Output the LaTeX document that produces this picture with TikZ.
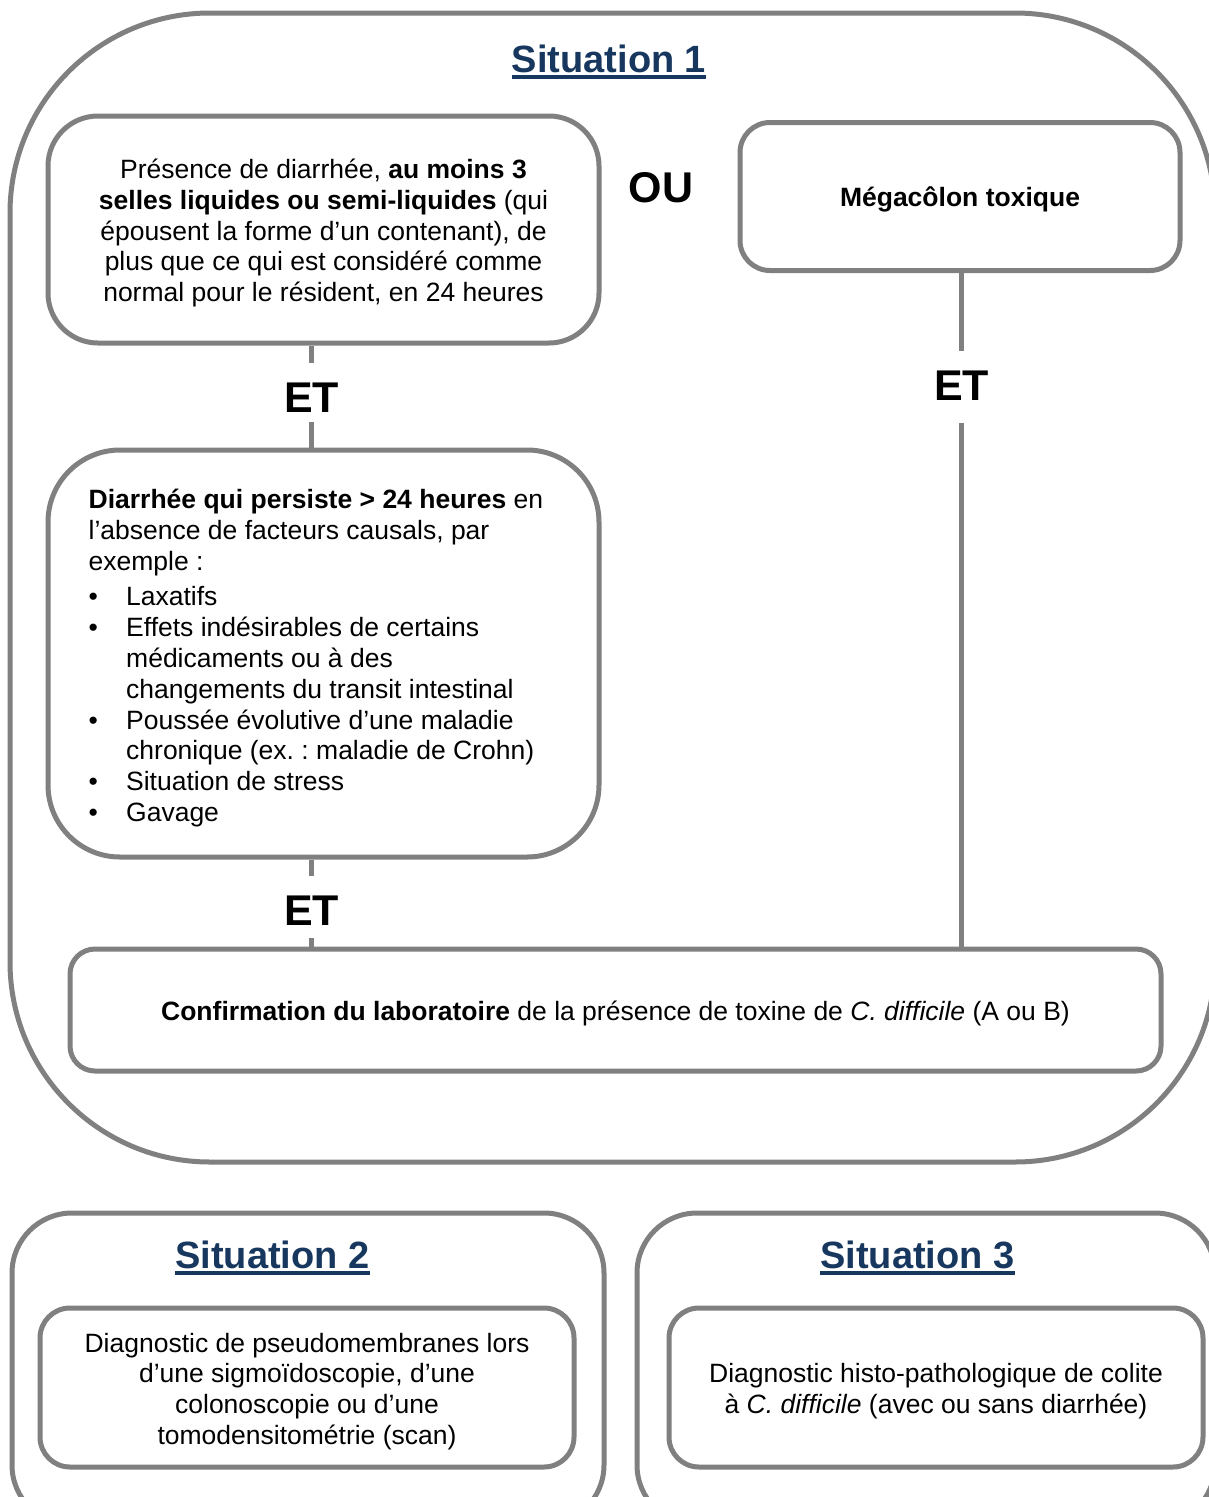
\documentclass[tikz,border=0pt]{standalone}
\usepackage{fontspec}
\setmainfont{Liberation Sans}
\definecolor{lg}{RGB}{128,128,128}
\definecolor{navy}{RGB}{23,55,94}
\newcommand{\bulitem}{\makebox[37.5pt][l]{•}}
\newcommand{\indit}{\hspace*{37.5pt}}
\frenchspacing
\begin{document}
\begin{tikzpicture}[x=1pt,y=-1pt,
  frame/.style={draw=lg, line width=5pt},
  body/.style={font=\fontsize{26.5}{30.8}\selectfont\frenchspacing},
  conn/.style={draw=lg, line width=5.5pt},
  title/.style={font=\fontsize{38}{40}\selectfont\bfseries, text=navy, inner sep=0pt, anchor=base},
  etlab/.style={font=\fontsize{43}{45}\selectfont\bfseries, inner sep=0pt, anchor=base},
  uline/.style={draw=navy, line width=3.8pt}]
\useasboundingbox (0,0) rectangle (1209,1497);
\clip (0,0) rectangle (1209,1497);

% outer frames
\node[frame, rounded corners=200pt, minimum width=1205pt, minimum height=1149pt] (S1) at (612.5,587.5) {};
\node[frame, rounded corners=60pt, minimum width=592pt, minimum height=312pt] (S2) at (308,1369) {};
\node[frame, rounded corners=60pt, minimum width=578pt, minimum height=312pt] (S3) at (926,1369) {};

% titles
\node[title] (t1) at (609,72) {Situation 1};
\draw[uline] ([yshift=-5pt]t1.base west) -- ([yshift=-5pt]t1.base east);
\node[title] (t2) at (272.5,1268) {Situation 2};
\draw[uline] ([yshift=-5pt]t2.base west) -- ([yshift=-5pt]t2.base east);
\node[title] (t3) at (917.5,1268) {Situation 3};
\draw[uline] ([yshift=-5pt]t3.base west) -- ([yshift=-5pt]t3.base east);

% situation 1 boxes
\node[frame, rounded corners=50pt, minimum width=551pt, minimum height=227pt] (A) at (323.5,229.5) {};
\node[body, align=center] (Atext) at ([yshift=-3.5pt]A.center)
 {Présence de diarrhée, \textbf{au moins 3}\\
  \textbf{selles liquides ou semi-liquides} (qui\\
  épousent la forme d’un contenant), de\\
  plus que ce qui est considéré comme\\
  normal pour le résident, en 24 heures};

\node[frame, rounded corners=30pt, minimum width=440pt, minimum height=148pt] (M) at (960,196.5) {};
\node[body] (Mtext) at ([yshift=-3pt]M.center) {\textbf{Mégacôlon toxique}};

\node[frame, rounded corners=72pt, minimum width=551pt, minimum height=407pt] (D) at (323.5,653.5) {};
\node[body, align=left, inner sep=0pt, anchor=west] (Dtext) at (88.5,658)
 {\textbf{Diarrhée qui persiste > 24 heures} en\\
  l’absence de facteurs causals, par\\
  exemple :\\[5pt]
  \bulitem Laxatifs\\
  \bulitem Effets indésirables de certains\\
  \indit médicaments ou à des\\
  \indit changements du transit intestinal\\
  \bulitem Poussée évolutive d’une maladie\\
  \indit chronique (ex. : maladie de Crohn)\\
  \bulitem Situation de stress\\
  \bulitem Gavage};

\node[frame, rounded corners=25pt, minimum width=1091pt, minimum height=122pt] (C) at (615.5,1010) {};
\node[body] (Ctext) at ([yshift=-3.5pt]C.center)
 {\textbf{Confirmation du laboratoire} de la présence de toxine de \textit{C. difficile} (A ou B)};

% labels
\node[etlab] (ou) at (661,202) {OU};
\node[etlab] (et1) at (311.5,412) {ET};
\node[etlab] (et2) at (961.5,400) {ET};
\node[etlab] (et3) at (311.5,925) {ET};

% connectors
\draw[conn] (A.south -| et1) -- ([yshift=19pt]et1.north);
\draw[conn] ([yshift=-10pt]et1.south) -- (D.north -| et1);
\draw[conn] (M.south -| et2) -- ([yshift=19pt]et2.north);
\draw[conn] ([yshift=-23pt]et2.south) -- (C.north -| et2);
\draw[conn] (D.south -| et3) -- ([yshift=19pt]et3.north);
\draw[conn] ([yshift=-13pt]et3.south) -- (C.north -| et3);

% situation 2 and 3 boxes
\node[frame, rounded corners=30pt, minimum width=534pt, minimum height=159pt] (B2) at (307,1387.5) {};
\node[body, align=center] (B2text) at ([yshift=-4pt]B2.center)
 {Diagnostic de pseudomembranes lors\\
  d’une sigmoïdoscopie, d’une\\
  colonoscopie ou d’une\\
  tomodensitométrie (scan)};
\node[frame, rounded corners=30pt, minimum width=534pt, minimum height=159pt] (B3) at (936,1387.5) {};
\node[body, align=center] (B3text) at ([yshift=-4pt]B3.center)
 {Diagnostic histo-pathologique de colite\\
  à \textit{C. difficile} (avec ou sans diarrhée)};
\end{tikzpicture}
\end{document}
